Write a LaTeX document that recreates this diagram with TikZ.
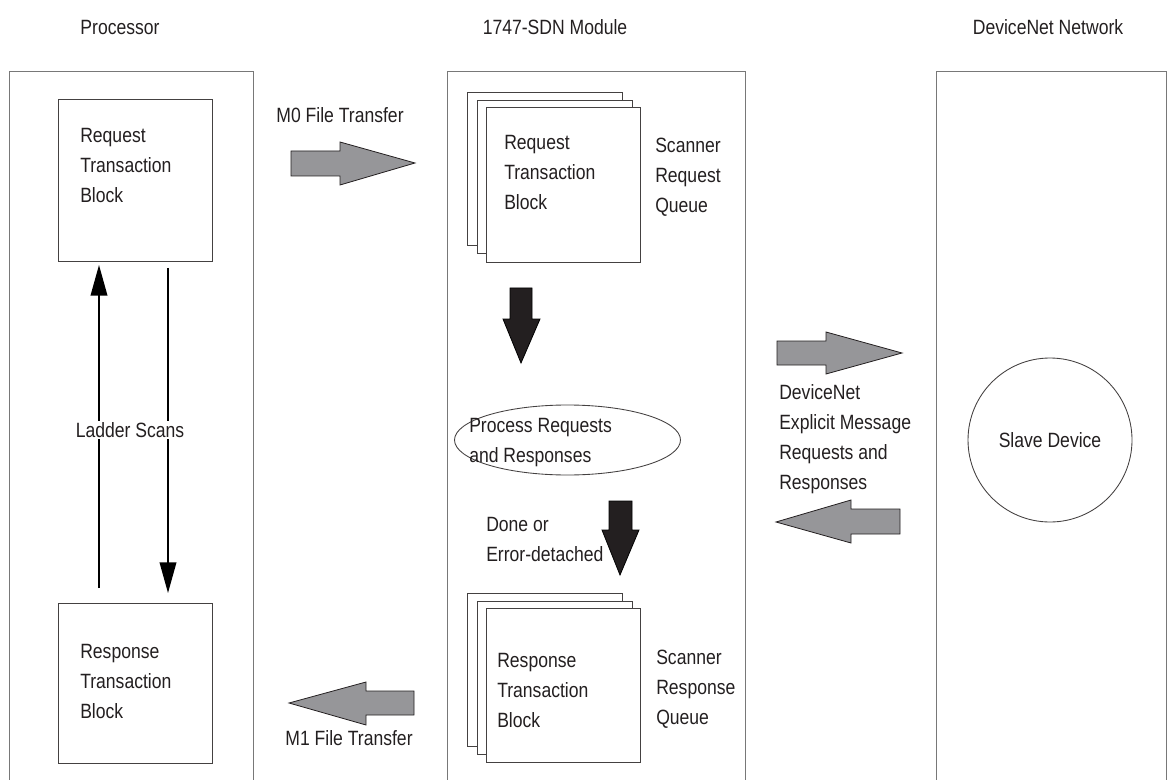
\documentclass[tikz,border=0pt]{standalone}
\usepackage{fontspec}
\setmainfont{Liberation Sans}[FakeStretch=0.85]
\usetikzlibrary{arrows.meta,shapes.geometric}
\definecolor{txt}{RGB}{35,31,32}
\definecolor{arrgray}{RGB}{150,150,153}
\definecolor{arrdark}{RGB}{35,31,32}
\definecolor{panelline}{RGB}{120,120,120}
\tikzset{
  lbl/.style={inner sep=0pt,text=txt,font=\fontsize{15.5pt}{22.5pt}\selectfont,align=left},
  panel/.style={draw=panelline,line width=0.75pt},
  tbox/.style={draw=txt!85,line width=0.65pt,fill=white},
  grayarrow/.style={draw=txt,line width=0.6pt,fill=arrgray},
  darkarrow/.style={draw=black,line width=0.6pt,fill=arrdark},
  ladder/.style={draw=black,line width=1.2pt,-{Triangle[length=23pt,width=12.5pt]}}
}
\begin{document}
\begin{tikzpicture}[x=0.75pt,y=-0.75pt]
\useasboundingbox (0,0) rectangle (1176,780);
% headers
\node[lbl,anchor=base] (hproc) at (120,34.5) {Processor};
\node[lbl,anchor=base] (hmod) at (555,34.5) {1747-SDN Module};
\node[lbl,anchor=base] (hnet) at (1048,34.5) {DeviceNet Network};
% panels
\draw[panel] (9.5,785) -- (9.5,72) -- (253,72) -- (253,785);
\draw[panel] (447,785) -- (447,72) -- (745,72) -- (745,785);
\draw[panel] (936,785) -- (936,72) -- (1166,72) -- (1166,785);
% processor boxes
\draw[tbox] (58,99) rectangle (212,261);
\node[lbl,anchor=north west] (preq) at (80,128) {Request\\Transaction\\Block};
\draw[tbox] (58,603) rectangle (212,763);
\node[lbl,anchor=north west] (presp) at (80,644) {Response\\Transaction\\Block};
% ladder scans
\coordinate (lu1) at (99,588); \coordinate (lu2) at (99,265);
\coordinate (ld1) at (168,268); \coordinate (ld2) at (168,593);
\draw[ladder] (lu1) -- (lu2);
\draw[ladder] (ld1) -- (ld2);
\node[lbl,anchor=base,fill=white,inner sep=1pt] (lscan) at (130,437.5) {Ladder Scans};
% M0
\node[lbl,anchor=base] (m0) at (340,122.5) {M0 File Transfer};
\path[grayarrow] (291,151)--(340,151)--(340,142)--(415,163)--(340,185)--(340,176)--(291,176)--cycle;
% request stack
\draw[tbox] (467,92) rectangle (622,245);
\draw[tbox] (477,100) rectangle (632,253);
\draw[tbox] (486,107) rectangle (640,262);
\node[lbl,anchor=north west] (sreq) at (504,135) {Request\\Transaction\\Block};
\node[lbl,anchor=north west] (sreqq) at (655,138) {Scanner\\Request\\Queue};
% black arrow 1
\path[darkarrow] (510,288)--(532,288)--(532,319)--(540,319)--(521,363)--(503,319)--(510,319)--cycle;
% ellipse
\node[draw=txt!85,line width=0.65pt,ellipse,minimum width=226*0.75pt,minimum height=70*0.75pt] (proc) at (567.5,440) {};
\node[lbl,anchor=north west] (proctext) at (469,418.5) {Process Requests\\and Responses};
% black arrow 2
\path[darkarrow] (609,501)--(632,501)--(632,530)--(639,530)--(620,575)--(602,530)--(609,530)--cycle;
\node[lbl,anchor=north west] (done) at (486,517.5) {Done or\\Error-detached};
% response stack
\draw[tbox] (467,593) rectangle (622,746);
\draw[tbox] (477,601) rectangle (632,754);
\draw[tbox] (486,608) rectangle (640,762);
\node[lbl,anchor=north west] (sresp) at (497,653) {Response\\Transaction\\Block};
\node[lbl,anchor=north west] (srespq) at (656,650) {Scanner\\Response\\Queue};
% M1
\path[grayarrow] (414,691)--(366,691)--(366,682)--(289,703)--(366,725)--(366,715)--(414,715)--cycle;
\node[lbl,anchor=base] (m1) at (349,745) {M1 File Transfer};
% DeviceNet arrows
\path[grayarrow] (777,341)--(826,341)--(826,332)--(902,353)--(826,374)--(826,365)--(777,365)--cycle;
\path[grayarrow] (900,509)--(851,509)--(851,500)--(776,522)--(851,543)--(851,534)--(900,534)--cycle;
\node[lbl,anchor=north west] (dnmsg) at (779,384.5) {DeviceNet\\Explicit Message\\Requests and\\Responses};
% slave device
\node[draw=txt!85,line width=0.65pt,circle,minimum size=164*0.75pt] (slave) at (1050,440) {};
\node[lbl] (slavetext) at (1050,440) {Slave Device};
\end{tikzpicture}
\end{document}
